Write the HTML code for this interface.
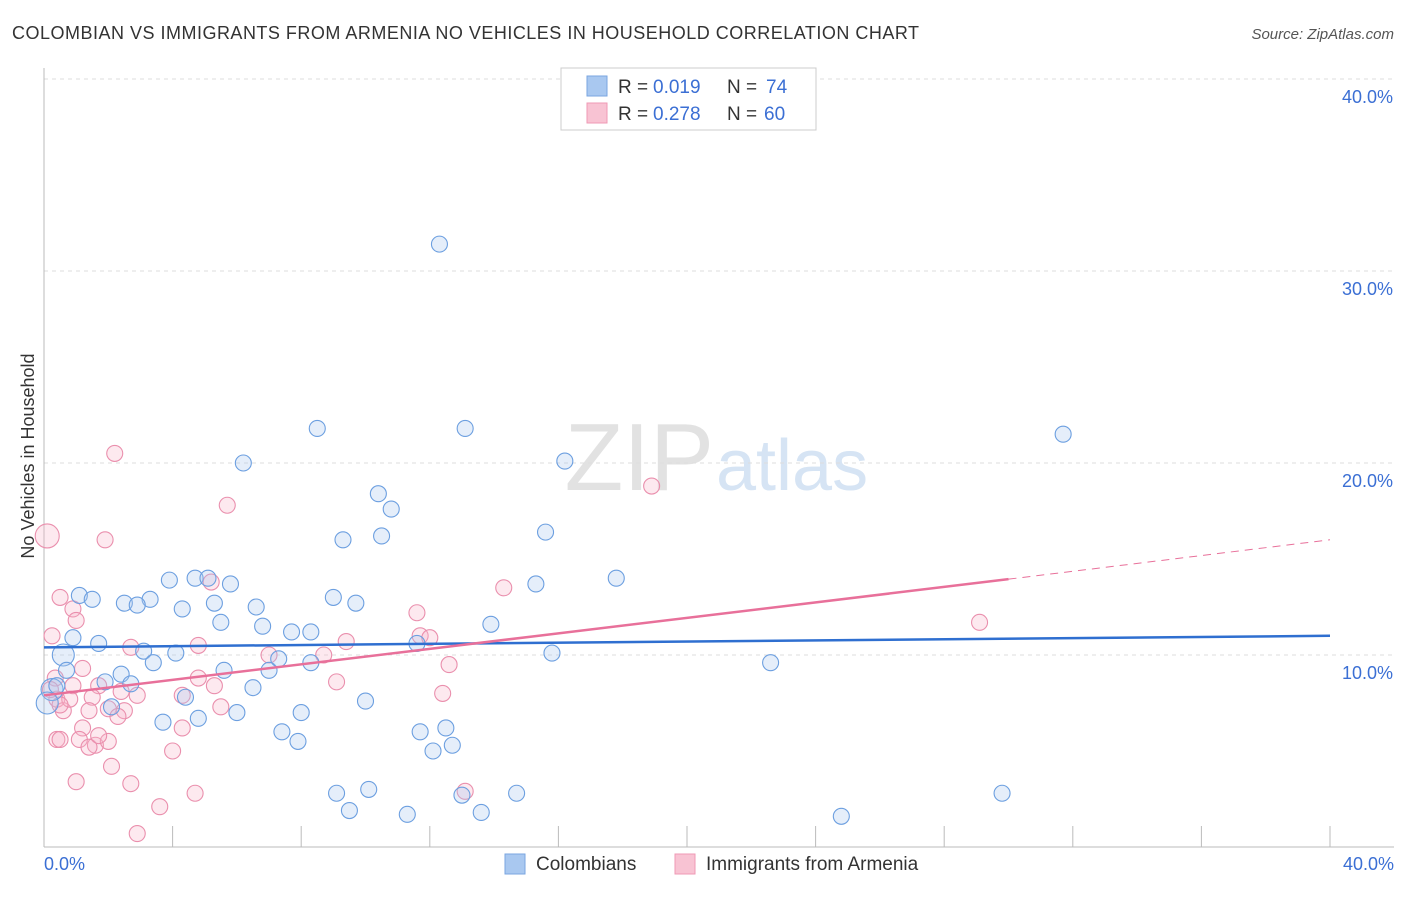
<!DOCTYPE html>
<html><head><meta charset="utf-8"><style>
body{margin:0;background:#fff;font-family:"Liberation Sans",sans-serif}
svg text{font-family:"Liberation Sans",sans-serif}
</style></head><body>
<svg width="1406" height="892" xmlns="http://www.w3.org/2000/svg">
<text x="12" y="39" font-size="18" fill="#333" textLength="907">COLOMBIAN VS IMMIGRANTS FROM ARMENIA NO VEHICLES IN HOUSEHOLD CORRELATION CHART</text>
<text x="1394" y="39" font-size="15" fill="#555" text-anchor="end" font-style="italic">Source: ZipAtlas.com</text>
<text x="714" y="490" font-size="96" fill="#e2e2e2" text-anchor="end" font-family="Liberation Serif">ZIP</text>
<text x="716" y="490" font-size="72" fill="#d6e4f4">atlas</text>
<g id="grid"></g>
<g id="axes"></g>
<g id="pts"></g>
<g id="lines"></g>
<text transform="translate(34,456) rotate(-90)" font-size="18" fill="#333" text-anchor="middle">No Vehicles in Household</text>
<text x="44" y="870" font-size="18" fill="#3b6fd4">0.0%</text>
<text x="1394" y="870" font-size="18" fill="#3b6fd4" text-anchor="end">40.0%</text>
<g>
<rect x="561" y="68" width="255" height="62" fill="#fff" stroke="#ccc"/>
<rect x="587" y="76" width="20" height="20" fill="#a9c8f0" stroke="#7aa6e0"/>
<rect x="587" y="103" width="20" height="20" fill="#f8c3d3" stroke="#ef9ab4"/>
<text x="618" y="93" font-size="19" fill="#333">R =</text><text x="653" y="93" font-size="19" fill="#3b6fd4">0.019</text>
<text x="727" y="93" font-size="19" fill="#333">N =</text><text x="766" y="93" font-size="19" fill="#3b6fd4">74</text>
<text x="618" y="120" font-size="19" fill="#333">R =</text><text x="653" y="120" font-size="19" fill="#3b6fd4">0.278</text>
<text x="727" y="120" font-size="19" fill="#333">N =</text><text x="764" y="120" font-size="19" fill="#3b6fd4">60</text>
</g>
<g>
<rect x="505" y="854" width="20" height="20" fill="#a9c8f0" stroke="#7aa6e0"/>
<text x="536" y="870" font-size="19" fill="#333">Colombians</text>
<rect x="675" y="854" width="20" height="20" fill="#f8c3d3" stroke="#ef9ab4"/>
<text x="706" y="870" font-size="19" fill="#333">Immigrants from Armenia</text>
</g>
</svg>
<script>
const yTicks=[10,20,30,40];
const blueX=[12.3,8.5,13.1,31.7,6.2,16.2,10.4,10.8,15.6,9.3,10.5,17.8,15.3,3.9,4.7,5.1,5.8,1.1,1.5,2.5,3.3,2.9,4.3,5.3,6.6,9.0,9.7,5.5,6.8,7.7,8.3,13.9,0.9,1.7,11.6,3.1,4.1,3.4,15.8,22.6,0.6,0.7,2.4,5.6,7.0,7.3,8.3,1.9,2.7,6.5,0.25,0.4,0.1,4.4,10.0,8.0,6.0,2.1,3.7,4.8,7.4,7.9,11.7,12.5,12.7,12.1,9.1,10.1,13.0,14.7,29.8,9.5,11.3,13.6,24.8];
const blueY=[31.4,21.8,21.8,21.5,20.0,20.1,18.4,17.6,16.4,16.0,16.2,14.0,13.7,13.9,14.0,14.0,13.7,13.1,12.9,12.7,12.9,12.6,12.4,12.7,12.5,13.0,12.7,11.7,11.5,11.2,11.2,11.6,10.9,10.6,10.6,10.2,10.1,9.6,10.1,9.6,10.0,9.2,9.0,9.2,9.2,9.8,9.6,8.6,8.5,8.3,8.2,8.4,7.5,7.8,7.6,7.0,7.0,7.3,6.5,6.7,6.0,5.5,6.0,6.2,5.3,5.0,2.8,3.0,2.7,2.8,2.8,1.9,1.7,1.8,1.6];
const blueR=[8,8,8,8,8,8,8,8,8,8,8,8,8,8,8,8,8,8,8,8,8,8,8,8,8,8,8,8,8,8,8,8,8,8,8,8,8,8,8,8,11,8,8,8,8,8,8,8,8,8,11,8,11,8,8,8,8,8,8,8,8,8,8,8,8,8,8,8,8,8,8,8,8,8,8];
const pinkX=[0.1,2.2,5.7,18.9,1.9,14.3,11.6,29.1,0.5,0.9,1.0,0.25,5.2,2.7,4.8,9.4,8.7,11.7,12.0,12.6,1.2,7.0,0.35,0.9,1.7,9.1,4.8,1.5,2.4,2.9,4.3,5.3,12.4,0.4,0.6,0.8,1.4,2.0,2.5,2.3,5.5,4.3,1.2,1.1,0.4,0.5,1.6,2.0,4.0,1.4,2.1,1.0,2.7,4.7,13.1,3.6,2.9,0.2,0.5,1.7];
const pinkY=[16.2,20.5,17.8,18.8,16.0,13.5,12.2,11.7,13.0,12.4,11.8,11.0,13.8,10.4,10.5,10.7,10.0,11.0,10.9,9.5,9.3,10.0,8.8,8.4,8.4,8.6,8.8,7.8,8.1,7.9,7.9,8.4,8.0,7.7,7.1,7.7,7.1,7.2,7.1,6.8,7.3,6.2,6.2,5.6,5.6,5.6,5.3,5.5,5.0,5.2,4.2,3.4,3.3,2.8,2.9,2.1,0.7,8.2,7.4,5.8];
const pinkR=[12,8,8,8,8,8,8,8,8,8,8,8,8,8,8,8,8,8,8,8,8,8,8,8,8,8,8,8,8,8,8,8,8,8,8,8,8,8,8,8,8,8,8,8,8,8,8,8,8,8,8,8,8,8,8,8,8,8,8,8,8];
const blueTrend=[10.4,11.0];
const pinkTrend=[7.9,13.95,16.0];
const X=v=>44+v*32.15, Y=v=>847-v*19.2;
const NS="http://www.w3.org/2000/svg";
function mk(p,t,a){const e=document.createElementNS(NS,t);for(const k in a)e.setAttribute(k,a[k]);document.getElementById(p).appendChild(e);return e;}
yTicks.forEach(t=>{
 const l=mk('grid','line',{x1:44,x2:1394,y1:Y(t),y2:Y(t),stroke:'#ddd','stroke-dasharray':'4,4'});
 
 
 const tx=mk('grid','text',{x:1393,y:Y(t)+24,'font-size':18,fill:'#3b6fd4','text-anchor':'end'});
 tx.textContent=t.toFixed(1)+'%';
 
 
});
mk('axes','line',{x1:44,x2:44,y1:68,y2:847,stroke:'#bbb'});
mk('axes','line',{x1:44,x2:1394,y1:847,y2:847,stroke:'#bbb'});
for(let i=0;i<=10;i++){const t=mk('axes','line',{x1:X(i*4),x2:X(i*4),y1:826,y2:847,stroke:'#bbb'});
 
 }
function pts(xs,ys,rs,f,s,nm){xs.forEach((x,i)=>{const c=mk('pts','circle',{cx:X(x),cy:Y(ys[i]),r:rs[i]||8,fill:f,'fill-opacity':0.3,stroke:s,'stroke-width':1.1});
 
 });}
pts(pinkX,pinkY,pinkR,'#f8b6ca','#ea8fad','armenia-point');
pts(blueX,blueY,blueR,'#a9c8f0','#6c9fe0','colombian-point');
const bl=mk('lines','line',{x1:X(0),y1:Y(blueTrend[0]),x2:X(40),y2:Y(blueTrend[1]),stroke:'#2f6fd0','stroke-width':2.5});


const pl=mk('lines','line',{x1:X(0),y1:Y(pinkTrend[0]),x2:X(30),y2:Y(pinkTrend[1]),stroke:'#e8709a','stroke-width':2.5});


const pd=mk('lines','line',{x1:X(30),y1:Y(pinkTrend[1]),x2:X(40),y2:Y(pinkTrend[2]),stroke:'#e8709a','stroke-width':1,'stroke-dasharray':'8,6'});


</script>
</body></html>
